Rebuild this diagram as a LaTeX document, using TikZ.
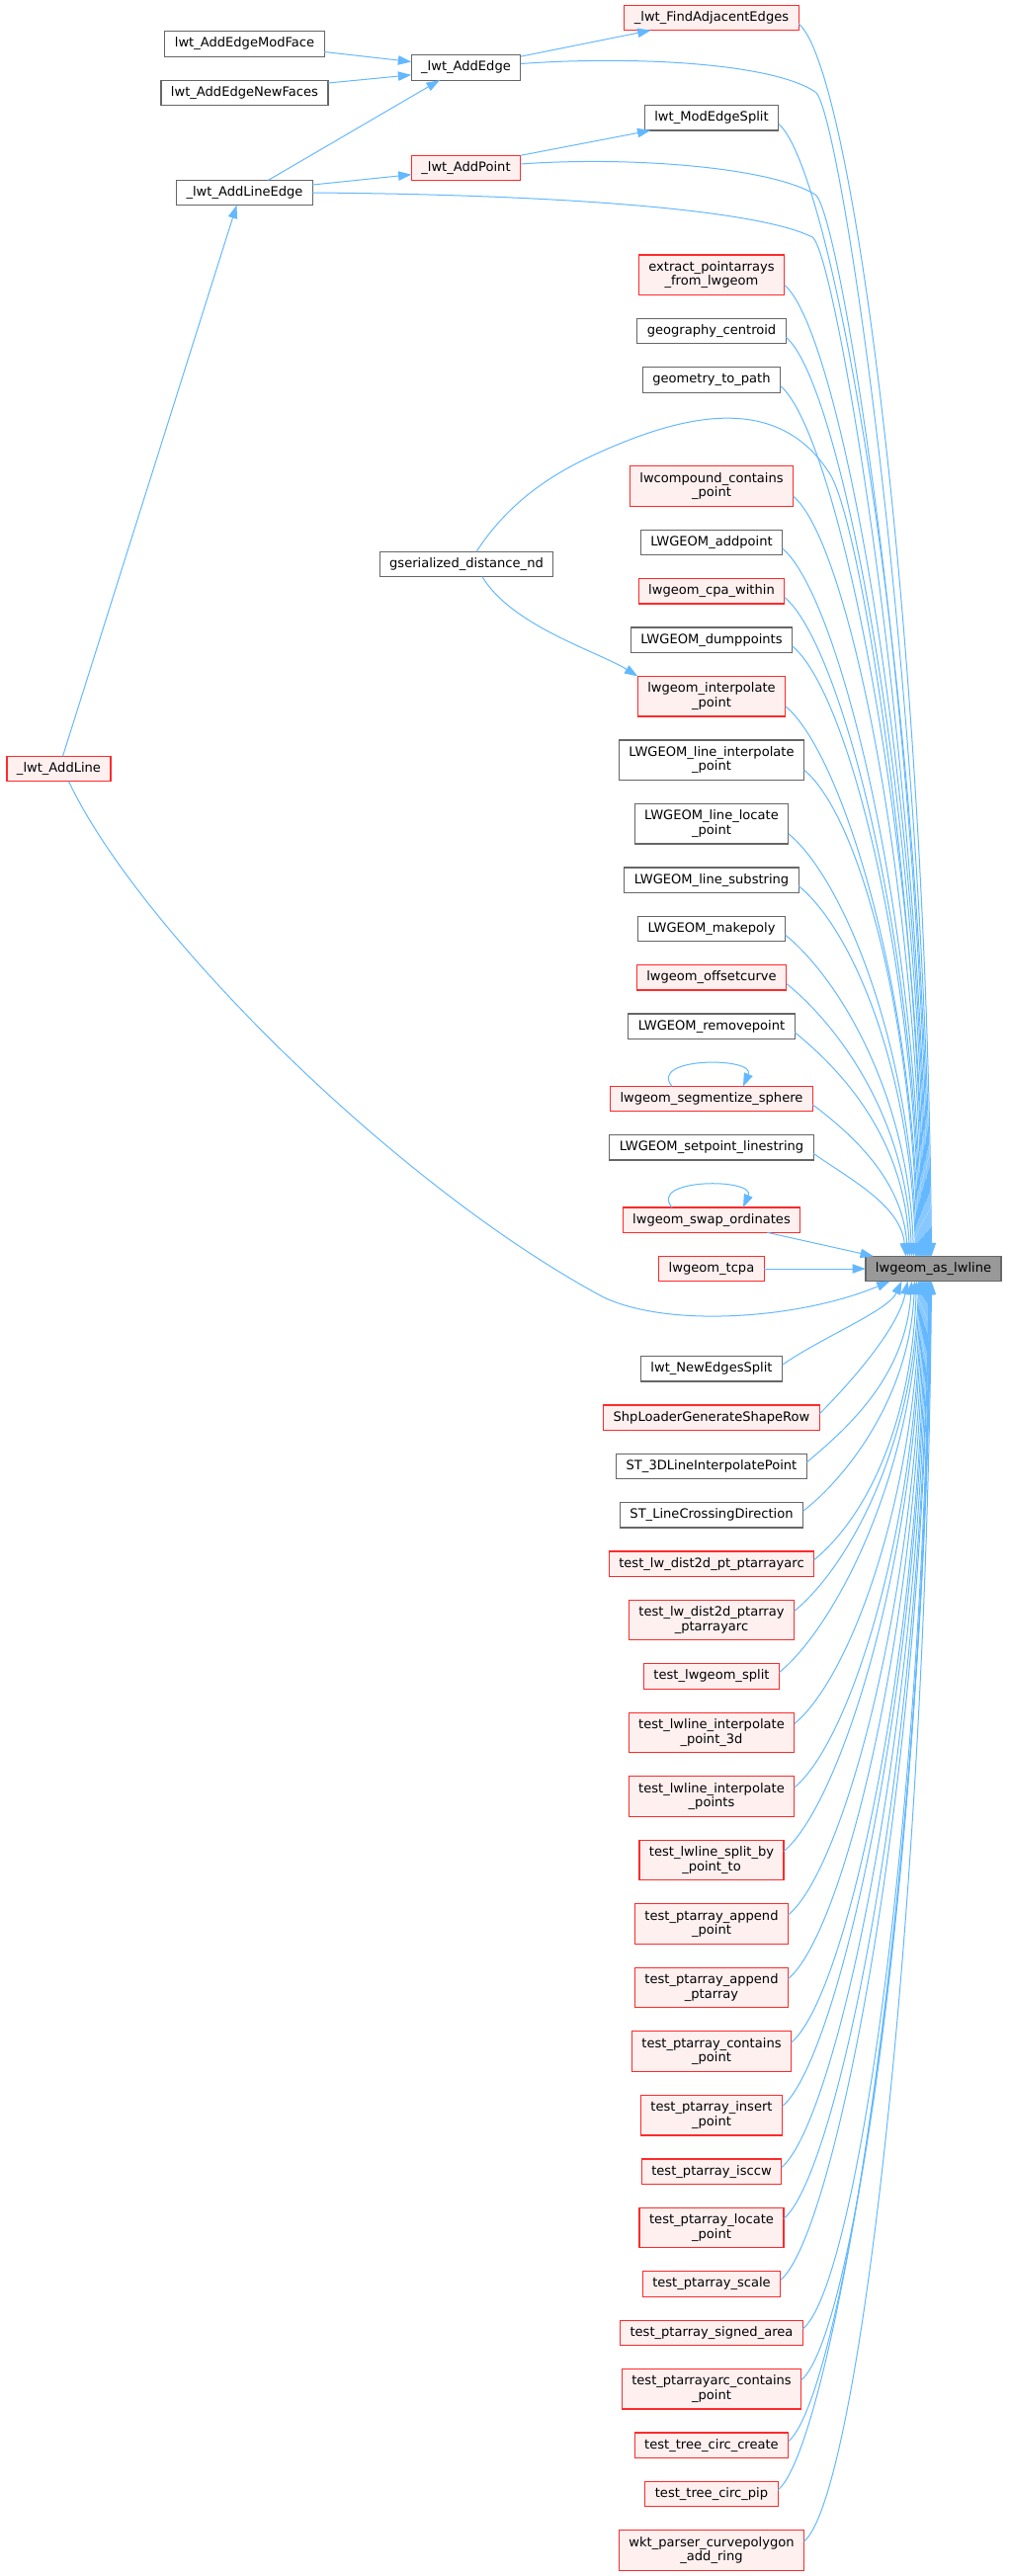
\documentclass[tikz,border=0pt]{standalone}
\usepackage{fontspec}
\setmainfont{DejaVu Sans}
\usepackage{xcolor}
\usepackage{tikz}
\usetikzlibrary{arrows.meta, positioning}

\definecolor{edgeblue}{HTML}{63B8FF}
\definecolor{boxgray}{HTML}{666666}
\definecolor{boxred}{HTML}{FF2A2A}
\definecolor{boxpink}{HTML}{FFF0F0}
\definecolor{focusgray}{HTML}{999999}

\begin{document}
\begin{tikzpicture}[
    x=0.75pt, y=0.75pt,
    node distance=18pt,
    every node/.style={font=\fontsize{9.8}{10.8}\selectfont},
    fn/.style={rectangle, draw=boxgray, fill=white, line width=0.9pt, outer sep=0pt,
               inner xsep=7.5pt, inner ysep=0pt, minimum height=19pt, align=center},
    fnred/.style={fn, draw=boxred, fill=boxpink},
    focus/.style={fn, fill=focusgray},
    two/.style={minimum height=30.4pt},
    call/.style={draw=edgeblue, line width=0.75pt, -{Triangle[length=10pt, width=7pt]}}
  ]
  \useasboundingbox (0,0) rectangle (1021,-2607);

  % left part
  \node[fn] (mf) at (247.5,-44.5) {lwt\_AddEdgeModFace};
  \node[fn] (nf) at (247.5,-94) {lwt\_AddEdgeNewFaces};
  \node[fn] (ae) at (471.5,-68.5) {\_lwt\_AddEdge};
  \node[fnred] (ap) at (471.5,-170) {\_lwt\_AddPoint};
  \node[fn] (ale) at (247.5,-195) {\_lwt\_AddLineEdge};
  \node[fn] (gs) at (472,-571) {gserialized\_distance\_nd};
  \node[fnred] (al) at (59.5,-778) {\_lwt\_AddLine};

  % callers column, upper half
  \node[fnred] (fa) at (720,-18) {\_lwt\_FindAdjacentEdges};
  \node[fn, below=57pt of fa] (mes) {lwt\_ModEdgeSplit};
  \node[fnred, two, below=94.5pt of mes] (ext) {extract\_pointarrays\\\_from\_lwgeom};
  \node[fn, below=of ext] (gc) {geography\_centroid};
  \node[fn, below=of gc] (gtp) {geometry\_to\_path};
  \node[fnred, two, below=56pt of gtp] (lwc) {lwcompound\_contains\\\_point};
  \node[fn, below=of lwc] (addp) {LWGEOM\_addpoint};
  \node[fnred, below=of addp] (cpa) {lwgeom\_cpa\_within};
  \node[fn, below=of cpa] (dump) {LWGEOM\_dumppoints};
  \node[fnred, two, below=of dump] (ip) {lwgeom\_interpolate\\\_point};
  \node[fn, two, below=of ip] (lip) {LWGEOM\_line\_interpolate\\\_point};
  \node[fn, two, below=of lip] (llp) {LWGEOM\_line\_locate\\\_point};
  \node[fn, below=of llp] (lsub) {LWGEOM\_line\_substring};
  \node[fn, below=of lsub] (mkp) {LWGEOM\_makepoly};
  \node[fnred, below=of mkp] (off) {lwgeom\_offsetcurve};
  \node[fn, below=of off] (rmp) {LWGEOM\_removepoint};
  \node[fnred, below=36pt of rmp] (seg) {lwgeom\_segmentize\_sphere};
  \node[fn, below=of seg] (setp) {LWGEOM\_setpoint\_linestring};
  \node[fnred, below=36pt of setp] (swp) {lwgeom\_swap\_ordinates};
  \node[fnred, below=of swp] (tcpa) {lwgeom\_tcpa};
  \node[focus, right=77pt of tcpa] (tgt) {lwgeom\_as\_lwline};

  % callers column, lower half
  \node[fn, below=57pt of tcpa] (nes) {lwt\_NewEdgesSplit};
  \node[fnred, below=of nes] (shp) {ShpLoaderGenerateShapeRow};
  \node[fn, below=of shp] (st3) {ST\_3DLineInterpolatePoint};
  \node[fn, below=of st3] (stl) {ST\_LineCrossingDirection};
  \node[fnred, below=of stl] (d2p) {test\_lw\_dist2d\_pt\_ptarrayarc};
  \node[fnred, two, below=of d2p] (d2pa) {test\_lw\_dist2d\_ptarray\\\_ptarrayarc};
  \node[fnred, below=of d2pa] (spl) {test\_lwgeom\_split};
  \node[fnred, two, below=of spl] (i3d) {test\_lwline\_interpolate\\\_point\_3d};
  \node[fnred, two, below=of i3d] (ips) {test\_lwline\_interpolate\\\_points};
  \node[fnred, two, below=of ips] (sbp) {test\_lwline\_split\_by\\\_point\_to};
  \node[fnred, two, below=of sbp] (apt) {test\_ptarray\_append\\\_point};
  \node[fnred, two, below=of apt] (apa) {test\_ptarray\_append\\\_ptarray};
  \node[fnred, two, below=of apa] (cont) {test\_ptarray\_contains\\\_point};
  \node[fnred, two, below=of cont] (ins) {test\_ptarray\_insert\\\_point};
  \node[fnred, below=of ins] (ccw) {test\_ptarray\_isccw};
  \node[fnred, two, below=of ccw] (loc) {test\_ptarray\_locate\\\_point};
  \node[fnred, below=of loc] (scl) {test\_ptarray\_scale};
  \node[fnred, below=of scl] (sga) {test\_ptarray\_signed\_area};
  \node[fnred, two, below=of sga] (acp) {test\_ptarrayarc\_contains\\\_point};
  \node[fnred, below=of acp] (tcc) {test\_tree\_circ\_create};
  \node[fnred, below=of tcc] (tcp) {test\_tree\_circ\_pip};
  \node[fnred, two, below=of tcp] (wkt) {wkt\_parser\_curvepolygon\\\_add\_ring};

  % short calls on the left
  \draw[call] ([yshift=-6pt]mf.east) -- ([yshift=4.5pt]ae.west);
  \draw[call] ([yshift=7.5pt]nf.east) -- ([yshift=-5.5pt]ae.west);
  \draw[call] ([yshift=-1pt]ae.north east) -- ([xshift=20pt]fa.south west);
  \draw[call] (ap.north east) -- ([xshift=4.5pt]mes.south west);
  \draw[call] ([xshift=18pt]ale.north) -- ([xshift=-20pt]ae.south);
  \draw[call] ([yshift=6pt]ale.east) -- ([yshift=-5pt]ap.west);
  \draw[call] ([xshift=3pt]al.north) -- ([xshift=-6pt]ale.south);
  \draw[call] ([xshift=12pt]gs.south) .. controls +(30,-50) and +(-40,25) .. (ip.north west);

  % long calls into lwgeom_as_lwline
  \draw[call] ([yshift=3pt]ae.east) .. controls +(110,8) and +(-45,30) .. (825,-93)
    .. controls +(25,-16) and +(-5,580) .. ([xshift=-2.25pt]tgt.north);
  \draw[call] ([yshift=3pt]ap.east) .. controls +(110,8) and +(-45,28) .. (825,-197)
    .. controls +(25,-16) and +(-5,530) .. ([xshift=-3.75pt]tgt.north);
  \draw[call] (ale.east) .. controls +(250,-2) and +(-55,28) .. (822,-240)
    .. controls +(23,-13) and +(-5,500) .. ([xshift=-4.5pt]tgt.north);
  \draw[call] ([xshift=7.5pt]gs.north) .. controls +(38,58) and +(-50,-21) .. (620,-452)
    .. controls +(80,34) and +(-50,80) .. (840,-480)
    .. controls +(30,-48) and +(-5,380) .. ([xshift=-7.5pt]tgt.north);
  \draw[call] ([xshift=7.5pt]al.south) .. controls +(70,-149) and +(-211,113) .. (611,-1313)
    .. controls +(69,-32) and +(-88,-37) .. ([xshift=-33pt]tgt.south);

  % upper callers
  \draw[call] ([yshift=-4.5pt]fa.east) .. controls +(55,-45) and +(-5,624) .. ([xshift=-1.5pt]tgt.north);
  \draw[call] ([yshift=-4.5pt]mes.east) .. controls +(55,-45) and +(-5,573) .. ([xshift=-3pt]tgt.north);
  \draw[call] ([yshift=-7.5pt]ext.east) .. controls +(55,-45) and +(-5,492) .. ([xshift=-5.25pt]tgt.north);
  \draw[call] ([yshift=-4.5pt]gc.east) .. controls +(55,-45) and +(-5,466) .. ([xshift=-6pt]tgt.north);
  \draw[call] ([yshift=-4.5pt]gtp.east) .. controls +(55,-45) and +(-5,441) .. ([xshift=-6.75pt]tgt.north);
  \draw[call] ([yshift=-7.5pt]lwc.east) .. controls +(55,-45) and +(-5,385) .. ([xshift=-8.25pt]tgt.north);
  \draw[call] ([yshift=-4.5pt]addp.east) .. controls +(55,-45) and +(-5,358) .. ([xshift=-9pt]tgt.north);
  \draw[call] ([yshift=-4.5pt]cpa.east) .. controls +(55,-45) and +(-5,333) .. ([xshift=-9.75pt]tgt.north);
  \draw[call] ([yshift=-4.5pt]dump.east) .. controls +(55,-45) and +(-5,309) .. ([xshift=-10.5pt]tgt.north);
  \draw[call] ([yshift=-7.5pt]ip.east) .. controls +(55,-45) and +(-5,279) .. ([xshift=-11.25pt]tgt.north);
  \draw[call] ([yshift=-7.5pt]lip.east) .. controls +(55,-45) and +(-5,246) .. ([xshift=-12pt]tgt.north);
  \draw[call] ([yshift=-7.5pt]llp.east) .. controls +(55,-45) and +(-5,214) .. ([xshift=-12.75pt]tgt.north);
  \draw[call] ([yshift=-4.5pt]lsub.east) .. controls +(55,-45) and +(-5,188) .. ([xshift=-13.5pt]tgt.north);
  \draw[call] ([yshift=-4.5pt]mkp.east) .. controls +(55,-45) and +(-5,163) .. ([xshift=-15pt]tgt.north);
  \draw[call] ([yshift=-4.5pt]off.east) .. controls +(55,-45) and +(-5,138) .. ([xshift=-16.5pt]tgt.north);
  \draw[call] ([yshift=-4.5pt]rmp.east) .. controls +(55,-45) and +(-5,114) .. ([xshift=-18pt]tgt.north);
  \draw[call] ([yshift=-4.5pt]seg.east) .. controls +(40,-30) and +(-5,77) .. ([xshift=-19.5pt]tgt.north);
  \draw[call] ([yshift=-4.5pt]setp.east) .. controls +(35,-25) and +(-5,52) .. ([xshift=-21pt]tgt.north);
  \draw[call] ([xshift=-25pt]swp.south east) -- ([xshift=6pt]tgt.north west);
  \draw[call] (tcpa.east) -- (tgt.west);

  % recursive calls
  \draw[call] ([xshift=-30pt]seg.north) .. controls +(-25,30) and +(13,30) .. ([xshift=24pt]seg.north);
  \draw[call] ([xshift=-30pt]swp.north) .. controls +(-25,30) and +(13,30) .. ([xshift=24pt]swp.north);

  % lower callers
  \draw[call] ([yshift=3pt]nes.east) .. controls +(40,28) and +(-14,-30) .. ([xshift=-24pt]tgt.south);
  \draw[call] ([yshift=3pt]shp.east) .. controls +(25,25) and +(-10,-50) .. ([xshift=-19.5pt]tgt.south);
  \draw[call] ([yshift=3pt]st3.east) .. controls +(35,30) and +(-6,-100) .. ([xshift=-16.5pt]tgt.south);
  \draw[call] ([yshift=3pt]stl.east) .. controls +(45,35) and +(-5,-116) .. ([xshift=-14.25pt]tgt.south);
  \draw[call] ([yshift=3pt]d2p.east) .. controls +(55,45) and +(-5,-141) .. ([xshift=-12.75pt]tgt.south);
  \draw[call] ([yshift=6.75pt]d2pa.east) .. controls +(55,45) and +(-5,-167) .. ([xshift=-11.25pt]tgt.south);
  \draw[call] ([yshift=3pt]spl.east) .. controls +(55,45) and +(-5,-198) .. ([xshift=-10.5pt]tgt.south);
  \draw[call] ([yshift=6.75pt]i3d.east) .. controls +(55,45) and +(-5,-224) .. ([xshift=-9.75pt]tgt.south);
  \draw[call] ([yshift=6.75pt]ips.east) .. controls +(55,45) and +(-5,-256) .. ([xshift=-9pt]tgt.south);
  \draw[call] ([yshift=6.75pt]sbp.east) .. controls +(55,45) and +(-5,-288) .. ([xshift=-8.25pt]tgt.south);
  \draw[call] ([yshift=6.75pt]apt.east) .. controls +(55,45) and +(-5,-320) .. ([xshift=-7.5pt]tgt.south);
  \draw[call] ([yshift=6.75pt]apa.east) .. controls +(55,45) and +(-5,-352) .. ([xshift=-6.75pt]tgt.south);
  \draw[call] ([yshift=6.75pt]cont.east) .. controls +(55,45) and +(-5,-384) .. ([xshift=-6pt]tgt.south);
  \draw[call] ([yshift=6.75pt]ins.east) .. controls +(55,45) and +(-5,-416) .. ([xshift=-5.25pt]tgt.south);
  \draw[call] ([yshift=3pt]ccw.east) .. controls +(55,45) and +(-5,-447) .. ([xshift=-4.5pt]tgt.south);
  \draw[call] ([yshift=6.75pt]loc.east) .. controls +(55,45) and +(-5,-474) .. ([xshift=-3.75pt]tgt.south);
  \draw[call] ([yshift=3pt]scl.east) .. controls +(55,45) and +(-5,-505) .. ([xshift=-3.4pt]tgt.south);
  \draw[call] ([yshift=3pt]sga.east) .. controls +(55,45) and +(-5,-530) .. ([xshift=-3pt]tgt.south);
  \draw[call] ([yshift=6.75pt]acp.east) .. controls +(55,45) and +(-5,-556) .. ([xshift=-2.6pt]tgt.south);
  \draw[call] ([yshift=3pt]tcc.east) .. controls +(55,45) and +(-5,-587) .. ([xshift=-2.25pt]tgt.south);
  \draw[call] ([yshift=3pt]tcp.east) .. controls +(55,45) and +(-5,-612) .. ([xshift=-1.9pt]tgt.south);
  \draw[call] ([yshift=6.75pt]wkt.east) .. controls +(55,45) and +(-5,-638) .. ([xshift=-1.5pt]tgt.south);

\end{tikzpicture}
\end{document}
